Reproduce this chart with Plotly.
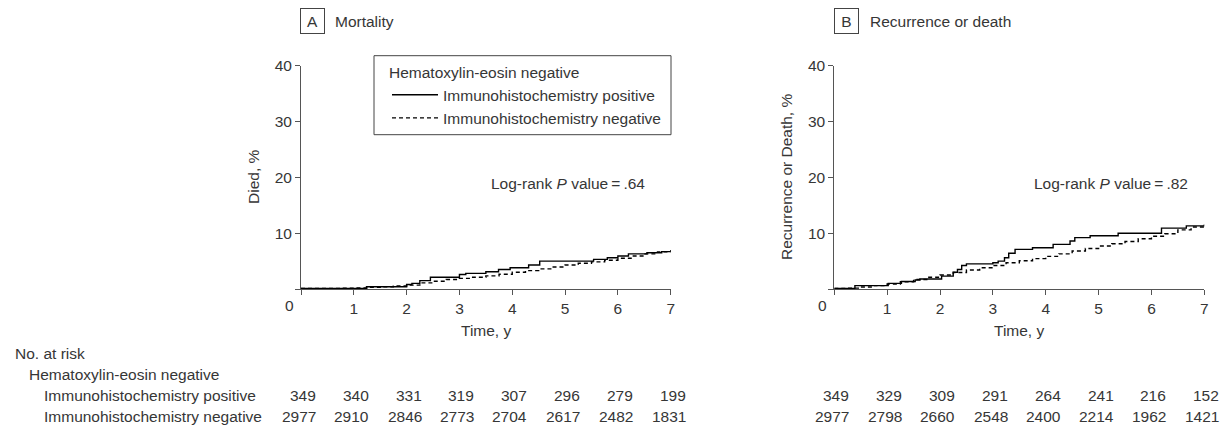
import plotly.graph_objects as go

# ---------------- data ----------------
years = [0, 1, 2, 3, 4, 5, 6, 7]

# Panel A: Mortality (cumulative %, step curves)
a_pos_t = [0, 1.24, 2.0, 2.1, 2.25, 2.45, 3.0, 3.12, 3.5, 3.74, 3.96, 4.31, 4.52, 5.54, 5.8, 6.0, 6.2, 6.55, 6.83, 7.0]
a_pos_v = [0.1, 0.4, 0.8, 1.0, 1.5, 2.1, 2.6, 2.8, 3.1, 3.5, 3.8, 4.3, 5.0, 5.3, 5.6, 5.9, 6.3, 6.5, 6.7, 6.9]

neg_t = [0, 0.25, 0.5, 0.75, 1.0, 1.25, 1.5, 1.75, 2.0, 2.25, 2.5, 2.75, 3.0, 3.25, 3.5,
         3.75, 4.0, 4.25, 4.5, 4.75, 5.0, 5.25, 5.5, 5.75, 6.0, 6.25, 6.5, 6.75, 7.0]
a_neg_v = [0.1, 0.1, 0.1, 0.15, 0.2, 0.3, 0.4, 0.55, 0.7, 1.1, 1.4, 1.7, 1.9, 2.1, 2.35,
           2.65, 3.0, 3.3, 3.6, 3.95, 4.3, 4.6, 4.85, 5.15, 5.5, 5.9, 6.3, 6.65, 7.0]

# Panel B: Recurrence or death
b_pos_t = [0, 0.39, 1.02, 1.27, 1.53, 1.62, 2.03, 2.25, 2.33, 2.41, 2.5, 3.0, 3.1, 3.22, 3.3,
           3.42, 3.75, 4.14, 4.46, 4.55, 4.84, 5.37, 6.19, 6.66, 7.0]
b_pos_v = [0.1, 0.6, 1.0, 1.35, 1.6, 1.8, 2.3, 3.0, 3.5, 4.2, 4.5, 4.7, 5.0, 5.6, 6.4,
           7.1, 7.4, 8.0, 8.6, 9.2, 9.55, 10.0, 10.9, 11.3, 11.5]
b_neg_v = [0.1, 0.15, 0.35, 0.6, 0.9, 1.3, 1.7, 2.1, 2.5, 2.95, 3.4, 3.8, 4.2, 4.7, 5.05,
           5.45, 5.85, 6.3, 6.8, 7.25, 7.7, 8.1, 8.5, 9.0, 9.45, 9.9, 10.6, 11.1, 11.6]

# Numbers at risk
a_risk_pos = [349, 340, 331, 319, 307, 296, 279, 199]
a_risk_neg = [2977, 2910, 2846, 2773, 2704, 2617, 2482, 1831]
b_risk_pos = [349, 329, 309, 291, 264, 241, 216, 152]
b_risk_neg = [2977, 2798, 2660, 2548, 2400, 2214, 1962, 1421]

y_ticks = [0, 10, 20, 30, 40]

# ---------------- styling ----------------
W, H = 1225, 425
FONT = "Liberation Sans, Arial, sans-serif"
TXT = "#363636"
AX = "#555555"
FS = 15.5


def py(px):
    return 1 - px / H


def pxx(px):
    return px / W


fig = go.Figure()

line_solid = dict(color="black", width=1.4, shape="hv")
line_dash = dict(color="black", width=1.4, shape="hv", dash="4px,3px")

fig.add_trace(go.Scatter(x=a_pos_t, y=a_pos_v, mode="lines", line=line_solid,
                         name="Immunohistochemistry positive", xaxis="x", yaxis="y"))
fig.add_trace(go.Scatter(x=neg_t, y=a_neg_v, mode="lines", line=line_dash,
                         name="Immunohistochemistry negative", xaxis="x", yaxis="y"))
fig.add_trace(go.Scatter(x=b_pos_t, y=b_pos_v, mode="lines", line=line_solid,
                         showlegend=False, xaxis="x2", yaxis="y2"))
fig.add_trace(go.Scatter(x=neg_t, y=b_neg_v, mode="lines", line=line_dash,
                         showlegend=False, xaxis="x2", yaxis="y2"))

ydom = [py(289), py(65.7)]
xdomA = [pxx(301), pxx(670.7)]
xdomB = [pxx(834.3), pxx(1204.3)]

xax = dict(range=[0, 7], tickvals=years, ticktext=[""] + [str(v) for v in years[1:]],
           showline=True, linecolor=AX, linewidth=1, ticks="outside", ticklen=5,
           tickcolor=AX, showgrid=False, zeroline=False, automargin=False,
           tickfont=dict(family=FONT, size=FS, color=TXT), fixedrange=True)
yax = dict(range=[0, 40], tickvals=y_ticks, ticktext=[""] + [str(v) for v in y_ticks[1:]],
           showline=True, linecolor=AX, linewidth=1, ticks="outside", ticklen=5,
           tickcolor=AX, showgrid=False, zeroline=False, domain=ydom, automargin=False,
           tickfont=dict(family=FONT, size=FS, color=TXT), fixedrange=True)

fig.update_layout(
    width=W, height=H, autosize=False,
    margin=dict(l=0, r=0, t=0, b=0, pad=0, autoexpand=False),
    paper_bgcolor="white", plot_bgcolor="white",
    font=dict(family=FONT, size=FS, color=TXT),
    xaxis=dict(xax, domain=xdomA, anchor="y"),
    yaxis=dict(yax, anchor="x"),
    xaxis2=dict(xax, domain=xdomB, anchor="y2"),
    yaxis2=dict(yax, anchor="x2"),
    showlegend=True,
    legend=dict(x=pxx(387), y=py(58), xanchor="left", yanchor="top",
                borderwidth=0, bgcolor="rgba(0,0,0,0)",
                title=dict(text="Hematoxylin-eosin negative", font=dict(size=FS, color=TXT)),
                font=dict(size=FS, color=TXT), itemwidth=46, tracegroupgap=0),
    shapes=[dict(type="rect", xref="paper", yref="paper",
                 x0=pxx(374), x1=pxx(671), y0=py(134.7), y1=py(55.7),
                 line=dict(color="#444444", width=1), fillcolor="rgba(0,0,0,0)")],
)

ann = []


def text(x, y, s, xanchor="left", yanchor="middle", **kw):
    ann.append(dict(x=x, y=y, xref="paper", yref="paper", text=s, showarrow=False,
                    xanchor=xanchor, yanchor=yanchor, font=dict(family=FONT, size=FS, color=TXT), **kw))


# Panel headers
text(pxx(312.5), py(21), "A", xanchor="center", bordercolor="#444444", borderwidth=1,
     borderpad=3, width=17, height=18)
text(pxx(333), py(21), "Mortality")
text(pxx(846.5), py(21), "B", xanchor="center", bordercolor="#444444", borderwidth=1,
     borderpad=3, width=17, height=18)
text(pxx(867.5), py(21), "Recurrence or death")

# Axis titles
text(pxx(253), py(177), "Died, %", xanchor="center", textangle=-90)
text(pxx(786), py(177), "Recurrence or Death, %", xanchor="center", textangle=-90)
text((xdomA[0] + xdomA[1]) / 2, py(330), "Time, y", xanchor="center")
text((xdomB[0] + xdomB[1]) / 2, py(330), "Time, y", xanchor="center")
text(pxx(289), py(305), "0", xanchor="center")
text(pxx(822), py(305), "0", xanchor="center")

# Log-rank annotations
text(pxx(489), py(183), "Log-rank <i>P</i> value\u2009=\u2009.64")
text(pxx(1032), py(183), "Log-rank <i>P</i> value\u2009=\u2009.82")

# Number at risk table
text(pxx(13), py(353), "No. at risk")
text(pxx(27), py(374), "Hematoxylin-eosin negative")
text(pxx(42), py(395), "Immunohistochemistry positive")
text(pxx(42), py(416), "Immunohistochemistry negative")

for xr, rp, rn in (("x", a_risk_pos, a_risk_neg), ("x2", b_risk_pos, b_risk_neg)):
    for t, vp, vn in zip(years, rp, rn):
        for v, ypx in ((vp, 395), (vn, 416)):
            ann.append(dict(x=t, y=py(ypx), xref=xr, yref="paper", text=str(v),
                            showarrow=False, xanchor="right", yanchor="middle", xshift=17,
                            font=dict(family=FONT, size=FS, color=TXT)))

fig.update_layout(annotations=ann)
fig.write_html("out.html",
               config={"responsive": False, "displayModeBar": False, "staticPlot": True},
               post_script="document.body.style.margin='0';document.body.style.overflow='hidden';")
